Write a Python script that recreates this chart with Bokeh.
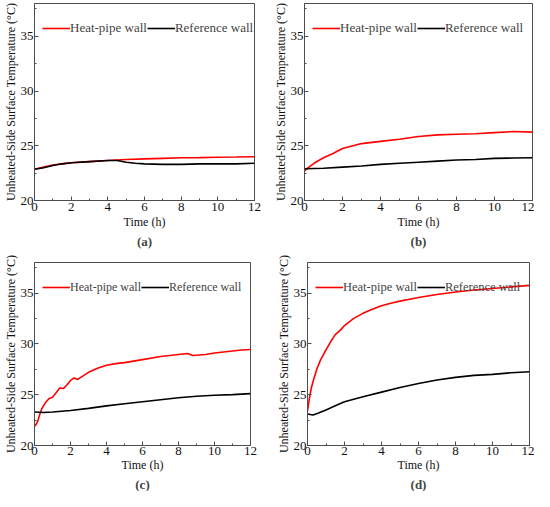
from bokeh.plotting import figure
from bokeh.layouts import column, row
from bokeh.models import Range1d, SingleIntervalTicker, Title, Legend, LegendItem
from bokeh.embed import file_html
from bokeh.resources import INLINE

# ---------------- data ----------------
# panel (a)
a_t_hp = [0, 0.5, 1, 1.5, 2, 3, 4, 5, 6, 7, 8, 9, 10, 11, 12]
a_hp = [22.85, 23.05, 23.25, 23.35, 23.45, 23.55, 23.65, 23.75, 23.8, 23.85, 23.9, 23.92, 23.95, 23.97, 24.0]
a_t_ref = [0, 0.5, 1, 1.5, 2, 3, 4, 4.5, 5, 5.5, 6, 7, 8, 9, 10, 11, 12]
a_ref = [22.85, 23.0, 23.2, 23.35, 23.45, 23.55, 23.65, 23.65, 23.5, 23.4, 23.35, 23.3, 23.3, 23.35, 23.35, 23.35, 23.4]

# panel (b)
b_t_hp = [0, 0.2, 0.5, 1, 1.5, 2, 3, 4, 5, 6, 7, 8, 9, 10, 11, 12]
b_hp = [22.7, 23.0, 23.4, 23.9, 24.3, 24.75, 25.2, 25.4, 25.6, 25.85, 26.0, 26.05, 26.1, 26.2, 26.3, 26.25]
b_t_ref = [0, 1, 2, 3, 4, 5, 6, 7, 8, 9, 10, 11, 12]
b_ref = [22.9, 22.95, 23.05, 23.15, 23.3, 23.4, 23.5, 23.6, 23.7, 23.75, 23.85, 23.88, 23.9]

# panel (c)
c_t_hp = [0, 0.1, 0.2, 0.3, 0.4, 0.5, 0.6, 0.8, 1.0, 1.2, 1.4, 1.6, 1.8, 2.0, 2.2, 2.4, 2.7,
          3.0, 3.5, 4, 4.5, 5, 6, 7, 8, 8.5, 8.8, 9.5, 10, 11, 11.5, 12]
c_hp = [21.9, 22.1, 22.5, 23.1, 23.6, 23.9, 24.2, 24.6, 24.75, 25.2, 25.65, 25.6, 25.95, 26.4, 26.65, 26.5, 26.85,
        27.2, 27.6, 27.9, 28.05, 28.15, 28.45, 28.75, 28.95, 29.05, 28.85, 28.95, 29.1, 29.3, 29.4, 29.45]
c_t_ref = [0, 0.5, 1, 2, 3, 4, 5, 6, 7, 8, 9, 10, 11, 12]
c_ref = [23.3, 23.25, 23.3, 23.45, 23.65, 23.9, 24.1, 24.3, 24.5, 24.7, 24.85, 24.95, 25.0, 25.1]

# panel (d)
d_t_hp = [0, 0.1, 0.2, 0.3, 0.5, 0.7, 1.0, 1.25, 1.5, 1.75, 2.0, 2.5, 3, 3.5, 4, 4.5, 5, 6, 7, 8, 9, 10, 11, 12]
d_hp = [23.4, 24.6, 25.6, 26.3, 27.5, 28.4, 29.4, 30.2, 30.9, 31.3, 31.8, 32.5, 33.0, 33.4, 33.75, 34.0, 34.2,
        34.55, 34.85, 35.1, 35.3, 35.45, 35.6, 35.75]
d_t_ref = [0, 0.3, 0.6, 1.0, 1.5, 2, 3, 4, 5, 6, 7, 8, 9, 10, 11, 12]
d_ref = [23.1, 23.0, 23.2, 23.5, 23.9, 24.3, 24.8, 25.25, 25.7, 26.1, 26.45, 26.7, 26.9, 27.0, 27.15, 27.25]

x_label = "Time (h)"
y_label = "Unheated-Side Surface Temperature (\u00b0C)"
series_names = ["Heat-pipe wall", "Reference wall"]
captions = ["(a)", "(b)", "(c)", "(d)"]

FONT = "Liberation Serif"
RED = "#ff0000"
BLACK = "#000000"
FRAME = "#4d4d4d"


def make_panel(t_hp, hp, t_ref, ref, caption, w, h, bl, br, bt, bb, leg_fs, xstand):
    p = figure(width=w, height=h, x_range=Range1d(0, 12), y_range=Range1d(20, 38),
               output_backend="svg", toolbar_location=None,
               min_border_left=bl, min_border_right=br, min_border_top=bt, min_border_bottom=bb)
    p.grid.visible = False
    p.outline_line_color = FRAME
    p.outline_line_width = 1
    p.xaxis.ticker = SingleIntervalTicker(interval=2, num_minor_ticks=2)
    p.yaxis.ticker = SingleIntervalTicker(interval=5, num_minor_ticks=2)
    for ax in (p.xaxis[0], p.yaxis[0]):
        ax.axis_line_color = FRAME
        ax.major_tick_line_color = FRAME
        ax.minor_tick_line_color = FRAME
        ax.major_tick_in = 4
        ax.major_tick_out = 0
        ax.minor_tick_in = 2
        ax.minor_tick_out = 0
        ax.major_label_text_font = FONT
        ax.major_label_text_font_size = "13px"
        ax.major_label_text_color = "#111111"
        ax.axis_label_text_font = FONT
        ax.axis_label_text_font_size = "12px"
        ax.axis_label_text_font_style = "normal"
        ax.axis_label_text_color = "#111111"
    p.xaxis.major_label_standoff = xstand[0]
    p.xaxis.axis_label_standoff = xstand[1]
    p.yaxis.major_label_standoff = 1
    p.yaxis.axis_label_standoff = 0
    p.xaxis.axis_label = x_label
    p.yaxis.axis_label = y_label

    r1 = p.line(t_hp, hp, line_color=RED, line_width=1.6)
    r2 = p.line(t_ref, ref, line_color=BLACK, line_width=1.6)
    leg = Legend(items=[LegendItem(label=series_names[0], renderers=[r1]),
                        LegendItem(label=series_names[1], renderers=[r2])],
                 orientation="horizontal", location="top_left",
                 margin=4, padding=4, spacing=0, glyph_width=28, glyph_height=34,
                 label_height=34, label_standoff=0,
                 label_text_font=FONT, label_text_font_size=leg_fs,
                 border_line_alpha=0, background_fill_alpha=0)
    p.add_layout(leg, "center")
    p.add_layout(Title(text=caption, align="center", text_font=FONT, text_font_size="13px",
                       text_font_style="bold", standoff=0), "below")
    return p


pa = make_panel(a_t_hp, a_hp, a_t_ref, a_ref, captions[0], 270, 250, 20, 16, 3, 50, "13px", (2, 1))
pb = make_panel(b_t_hp, b_hp, b_t_ref, b_ref, captions[1], 264, 250, 34, 2, 3, 50, "13px", (2, 1))
pc = make_panel(c_t_hp, c_hp, c_t_ref, c_ref, captions[2], 270, 241, 28, 20, 12, 40, "12px", (1, 0))
pd = make_panel(d_t_hp, d_hp, d_t_ref, d_ref, captions[3], 264, 241, 37, 5, 10, 40, "12.5px", (1, 0))

layout = column(row(pa, pb), row(pc, pd))
open("out.html", "w").write(file_html(layout, INLINE))
